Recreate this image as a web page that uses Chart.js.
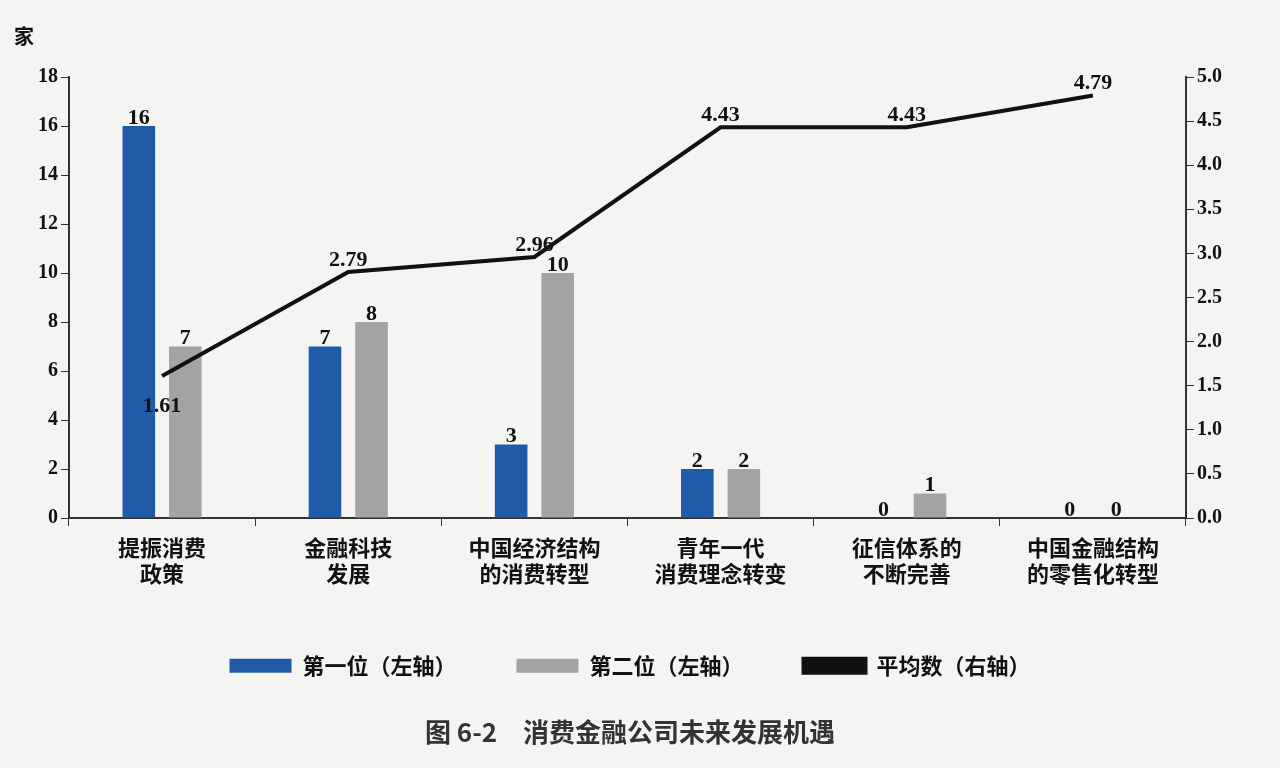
<!DOCTYPE html>
<html><head><meta charset="utf-8">
<script src="https://cdn.jsdelivr.net/npm/chart.js@4"></script>
<style>body{margin:0;background:#f4f4f2}#wrap{width:1280px;height:768px;position:relative}</style>
</head><body><div id="wrap"><canvas id="c" width="1280" height="768"></canvas></div>
<script>
const categories = [["提振消费","政策"],["金融科技","发展"],["中国经济结构","的消费转型"],["青年一代","消费理念转变"],["征信体系的","不断完善"],["中国金融结构","的零售化转型"]];
const firstRank = [16, 7, 3, 2, 0, 0];
const secondRank = [7, 8, 10, 2, 1, 0];
const average = [1.61, 2.79, 2.96, 4.43, 4.43, 4.79];
const leftTicks = [0,2,4,6,8,10,12,14,16,18];

const numFont = "bold 22px 'Liberation Serif'";

const labels = {
  id: "labels",
  afterDatasetsDraw(chart) {
    const ctx = chart.ctx;
    ctx.save();
    ctx.font = numFont;
    ctx.fillStyle = "#111";
    ctx.textAlign = "center";
    [0, 1].forEach(i => {
      chart.getDatasetMeta(i).data.forEach((b, j) => {
        ctx.fillText(chart.data.datasets[i].data[j], b.x, b.y - 8);
      });
    });
    chart.getDatasetMeta(2).data.forEach((p, j) => {
      const below = j === 0;
      ctx.fillText(average[j].toFixed(2), p.x, below ? p.y + 30 : p.y - 12);
    });
    ctx.font = "bold 20px 'Noto Sans CJK SC'";
    ctx.textAlign = "left";
    ctx.fillText("家", 14, 36);
    ctx.restore();
  }
};

new Chart(document.getElementById("c"), {
  data: {
    labels: categories,
    datasets: [
      { type: "bar", label: "第一位（左轴）", data: firstRank, backgroundColor: "#1f5ba6", yAxisID: "y", order: 2 },
      { type: "bar", label: "第二位（左轴）", data: secondRank, backgroundColor: "#a3a3a3", yAxisID: "y", order: 2 },
      { type: "line", label: "平均数（右轴）", data: average, borderColor: "#111", backgroundColor: "#111", borderWidth: 4, pointRadius: 0, yAxisID: "y1", order: 1 }
    ]
  },
  options: {
    responsive: false,
    animation: false,
    categoryPercentage: 0.5,
    barPercentage: 0.7,
    layout: { padding: { left: 35, right: 55, top: 77, bottom: 20 } },
    plugins: {
      legend: { position: "bottom", labels: { sort: (a, b) => a.datasetIndex - b.datasetIndex, boxWidth: 62, boxHeight: 14, padding: 60, color: "#111", font: { size: 22, weight: "bold", family: "'Noto Sans CJK SC'" } } },
      title: { display: true, position: "bottom", text: "图 6-2　消费金融公司未来发展机遇", color: "#333", padding: { top: 30 }, font: { size: 26, weight: "bold", family: "'Noto Sans CJK SC'" } },
      tooltip: { enabled: false }
    },
    scales: {
      x: {
        grid: { display: true, drawOnChartArea: false, drawTicks: true, tickLength: 8, color: "#333" },
        border: { color: "#333", width: 2 },
        ticks: { color: "#111", font: { size: 22, weight: "bold", family: "'Noto Sans CJK SC'" }, padding: 8 }
      },
      y: {
        position: "left", min: 0, max: 18,
        afterBuildTicks: a => { a.ticks = leftTicks.map(v => ({ value: v })); },
        grid: { drawOnChartArea: false, tickLength: 8, color: "#333" },
        border: { color: "#333", width: 2 },
        ticks: { color: "#111", font: { size: 20, weight: "bold", family: "'Liberation Serif'" } }
      },
      y1: {
        position: "right", min: 0, max: 5,
        grid: { drawOnChartArea: false, tickLength: 8, color: "#333" },
        border: { color: "#333", width: 2 },
        ticks: { stepSize: 0.5, color: "#111", callback: v => v.toFixed(1), font: { size: 20, weight: "bold", family: "'Liberation Serif'" } }
      }
    }
  },
  plugins: [labels]
});
</script></body></html>
